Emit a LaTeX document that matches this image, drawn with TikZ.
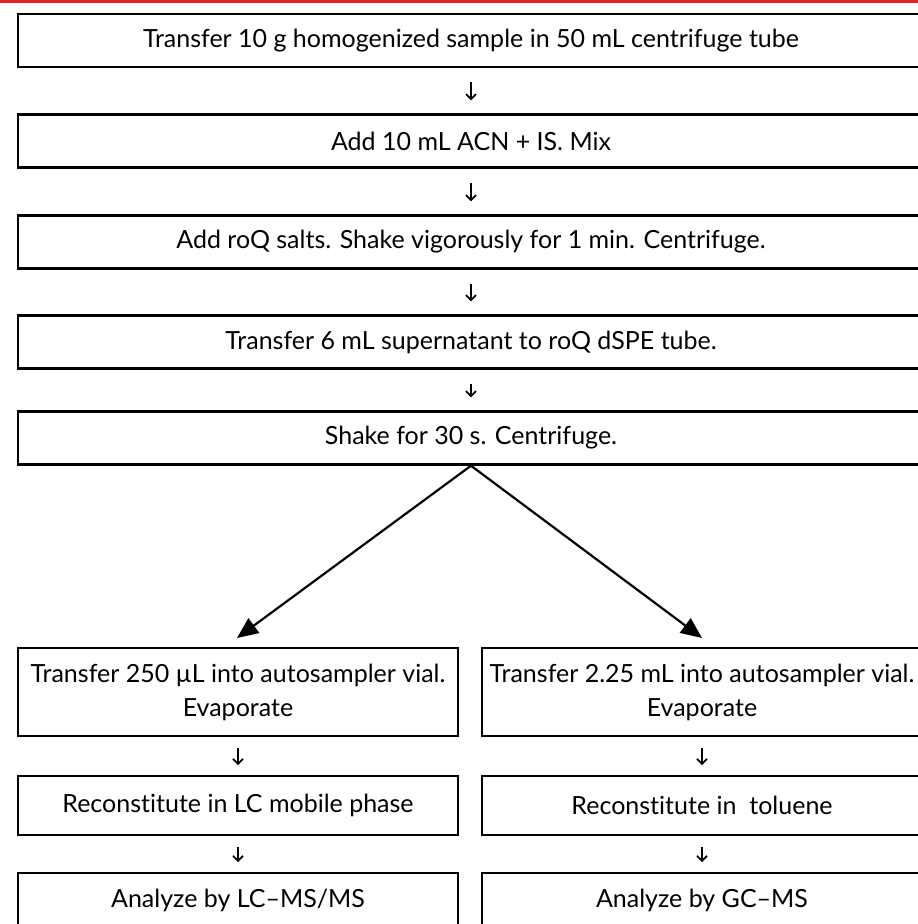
\documentclass[tikz,border=0pt]{standalone}
\usepackage{fontspec}
\setmainfont[Ligatures={NoCommon}]{Lato}
\usetikzlibrary{arrows.meta}
\definecolor{topred}{RGB}{232,32,40}
\begin{document}
\begin{tikzpicture}[x=1pt,y=-1pt,
  font=\fontsize{25}{34}\selectfont,
  wide/.style={draw, line width=2.4pt, minimum width=906pt, minimum height=53pt, inner sep=0pt, align=center},
  half/.style={draw, line width=1.8pt, minimum width=440pt, inner sep=0pt, align=center},
  smallarr/.style={line width=1.8pt, -{Straight Barb[length=5pt,width=10pt,line width=1.8pt]}},
  bigarr/.style={line width=2.2pt, -{Triangle[length=21pt,width=18pt]}}]
\useasboundingbox (0,0) rectangle (918,924);
\fill[topred] (0,0) rectangle (918,2.5);
\node[wide] (b1) at (471,40.5) {Transfer 10 g homogenized sample in 50 mL centrifuge tube};
\node[wide] (b2) at (471,141) {Add 10 mL ACN + IS. Mix};
\node[wide] (b3) at (471,242) {Add roQ salts. Shake vigorously for 1 min. Centrifuge.};
\node[wide] (b4) at (471,342) {Transfer 6 mL supernatant to roQ dSPE tube.};
\node[wide] (b5) at (471,438) {Shake for 30 s. Centrifuge.};
\node[half, minimum height=88pt] (l1) at (238,692) {Transfer 250 µL into autosampler vial.\\Evaporate};
\node[half, minimum height=59pt] (l2) at (238,805.5) {Reconstitute in LC mobile phase};
\node[half, minimum height=54pt] (l3) at (238,900) {Analyze by LC--MS/MS};
\node[half, minimum height=88pt] (r1) at (702,692) {Transfer 2.25 mL into autosampler vial.\\Evaporate};
\node[half, minimum height=59pt] (r2) at (702,805.5) {Reconstitute in~ toluene};
\node[half, minimum height=54pt] (r3) at (702,900) {Analyze by GC--MS};
\foreach \a/\b in {b1/b2,b2/b3,b3/b4,b4/b5}
  \draw[smallarr, shorten <=14pt, shorten >=13pt] (\a) -- (\b);
\foreach \a/\b in {l1/l2,l2/l3,r1/r2,r2/r3}
  \draw[smallarr, shorten <=11pt, shorten >=10pt] (\a) -- (\b);
\coordinate (tl) at (237,638);
\coordinate (tr) at (702,638);
\draw[bigarr] (b5.south) -- (tl);
\draw[bigarr] (b5.south) -- (tr);
\end{tikzpicture}
\end{document}
